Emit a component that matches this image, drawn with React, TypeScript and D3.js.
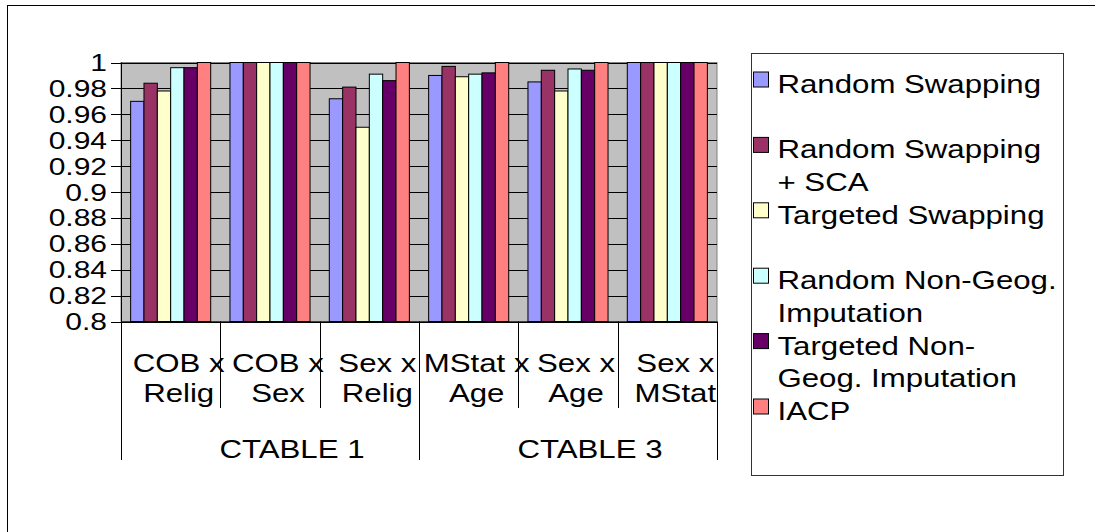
import React from "react";
import * as d3 from "d3";

// Category labels (two wrapped lines each) and their table groups
const categories = ["COB x Relig", "COB x Sex", "Sex x Relig", "MStat x Age", "Sex x Age", "Sex x MStat"];
const categoryLines = [
  ["COB x", "Relig"],
  ["COB x", "Sex"],
  ["Sex x", "Relig"],
  ["MStat x", "Age"],
  ["Sex x", "Age"],
  ["Sex x", "MStat"],
];
const groups = ["CTABLE 1", "CTABLE 3"];
const groupSize = 3;

const seriesNames = [
  "Random Swapping",
  "Random Swapping + SCA",
  "Targeted Swapping",
  "Random Non-Geog. Imputation",
  "Targeted Non-Geog. Imputation",
  "IACP",
];
const legendLines = [
  ["Random Swapping"],
  ["Random Swapping", "+ SCA"],
  ["Targeted Swapping"],
  ["Random Non-Geog.", "Imputation"],
  ["Targeted Non-", "Geog. Imputation"],
  ["IACP"],
];
const seriesColors = ["#9999FF", "#993366", "#FFFFCC", "#CCFFFF", "#660066", "#FF8080"];

// One array per series, values in category order
const randomSwapping = [0.970, 1.0, 0.972, 0.990, 0.985, 1.0];
const randomSwappingSCA = [0.984, 1.0, 0.981, 0.997, 0.994, 1.0];
const targetedSwapping = [0.978, 1.0, 0.950, 0.989, 0.978, 1.0];
const randomNonGeog = [0.996, 1.0, 0.991, 0.991, 0.995, 1.0];
const targetedNonGeog = [0.996, 1.0, 0.986, 0.992, 0.994, 1.0];
const iacp = [1.0, 1.0, 1.0, 1.0, 1.0, 1.0];
const seriesValues = [randomSwapping, randomSwappingSCA, targetedSwapping, randomNonGeog, targetedNonGeog, iacp];

const yTicks = [0.8, 0.82, 0.84, 0.86, 0.88, 0.9, 0.92, 0.94, 0.96, 0.98, 1];

const W = 1095;
const H = 532;
const plot = { left: 121, right: 717, top: 62.5, bottom: 321.5 };
const FONT = "'Liberation Sans', Arial, sans-serif";
const FS = 26;
const SX = 1.2;

function Txt({ x, y, anchor = "start", children, size = FS, sx = SX }: any) {
  return (
    <text
      transform={`translate(${x},${y}) scale(${sx},1)`}
      textAnchor={anchor}
      fontFamily={FONT}
      fontSize={size}
      fill="#000"
    >
      {children}
    </text>
  );
}

export default function App() {
  const x0 = d3.scaleBand<string>().domain(categories).range([plot.left, plot.right]).padding(0);
  const bw = x0.bandwidth();
  const gap = bw * 0.097;
  const x1 = d3
    .scaleBand<number>()
    .domain(d3.range(seriesNames.length))
    .range([gap, bw - gap])
    .padding(0);
  const y = d3.scaleLinear().domain([0.8, 1]).range([plot.bottom, plot.top]);

  const boundaries = d3.range(categories.length + 1).map((i) => plot.left + i * bw);

  return (
    <svg
      width={W}
      height={H}
      style={{ position: "absolute", left: 0, top: 0, background: "#fff" }}
    >
      {/* outer frame */}
      <rect x={7.5} y={5.5} width={W + 10} height={H + 10} fill="none" stroke="#000" strokeWidth={1} />

      {/* plot background */}
      <rect
        x={plot.left}
        y={plot.top}
        width={plot.right - plot.left}
        height={plot.bottom - plot.top}
        fill="#C0C0C0"
        stroke="#808080"
      />

      {/* gridlines */}
      {yTicks.map((t) => (
        <line
          key={"g" + t}
          x1={plot.left}
          x2={plot.right}
          y1={Math.round(y(t)) + 0.5}
          y2={Math.round(y(t)) + 0.5}
          stroke="#000"
          strokeWidth={1}
        />
      ))}

      {/* bars */}
      {categories.map((c, ci) => (
        <g key={c} transform={`translate(${x0(c)},0)`}>
          {seriesValues.map((vals, si) => (
            <rect
              key={si}
              x={x1(si)}
              y={y(vals[ci])}
              width={x1.bandwidth()}
              height={y(0.8) - y(vals[ci])}
              fill={seriesColors[si]}
              stroke="#000"
              strokeWidth={1}
            />
          ))}
        </g>
      ))}

      {/* y axis */}
      <line x1={plot.left + 0.5} x2={plot.left + 0.5} y1={plot.top} y2={plot.bottom} stroke="#000" />
      {yTicks.map((t) => (
        <g key={"t" + t}>
          <line
            x1={plot.left - 10}
            x2={plot.left}
            y1={Math.round(y(t)) + 0.5}
            y2={Math.round(y(t)) + 0.5}
            stroke="#000"
          />
          <Txt x={107} y={y(t) + 8.5} anchor="end" size={24} sx={1.25}>
            {String(t)}
          </Txt>
        </g>
      ))}

      {/* x axis */}
      <line x1={plot.left} x2={plot.right} y1={plot.bottom + 0.5} y2={plot.bottom + 0.5} stroke="#000" />
      {boundaries.map((bx, i) => {
        const outer = i % groupSize === 0;
        return (
          <line
            key={"b" + i}
            x1={Math.round(bx) + 0.5}
            x2={Math.round(bx) + 0.5}
            y1={plot.bottom}
            y2={outer ? 460 : 408}
            stroke="#000"
          />
        );
      })}
      {categories.map((c, ci) => {
        const cx = (x0(c) as number) + bw / 2 + 8;
        return (
          <g key={"cl" + c}>
            <Txt x={cx} y={372} anchor="middle">
              {categoryLines[ci][0]}
            </Txt>
            <Txt x={cx} y={402} anchor="middle">
              {categoryLines[ci][1]}
            </Txt>
          </g>
        );
      })}
      {groups.map((g, gi) => {
        const gx = plot.left + (gi * groupSize + groupSize / 2) * bw + 22;
        return (
          <Txt key={g} x={gx} y={458} anchor="middle">
            {g}
          </Txt>
        );
      })}

      {/* legend */}
      <rect x={751.5} y={53.5} width={312} height={422} fill="#fff" stroke="#333" strokeWidth={1} />
      {seriesNames.map((s, i) => {
        const base = 93 + i * 65.4;
        return (
          <g key={s}>
            <rect x={753.5} y={base - 21} width={15} height={15} fill={seriesColors[i]} stroke="#000" />
            {legendLines[i].map((ln, li) => (
              <Txt key={li} x={777.5} y={base + li * 32.5}>
                {ln}
              </Txt>
            ))}
          </g>
        );
      })}
    </svg>
  );
}
